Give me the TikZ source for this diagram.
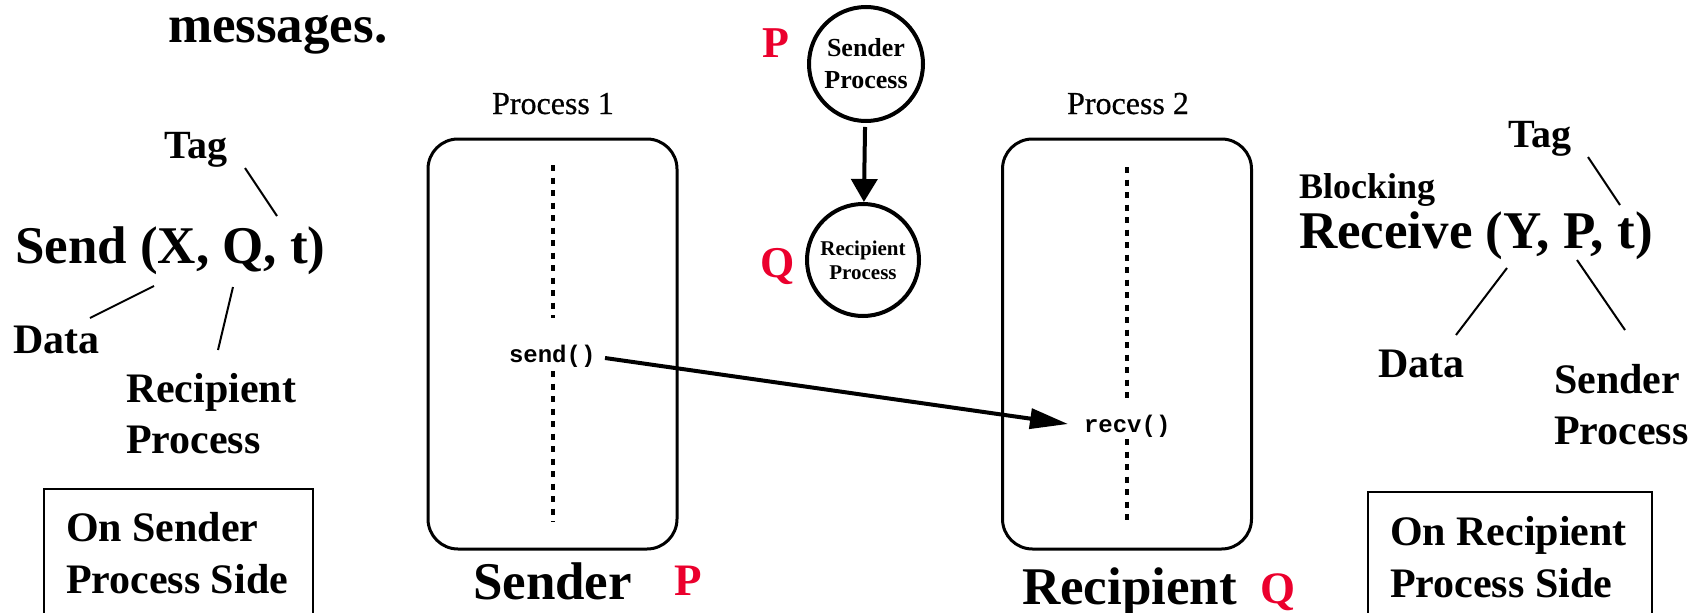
\documentclass[tikz,border=0pt]{standalone}
\usepackage{fontspec}
\setmainfont{Liberation Serif}
\setmonofont{Liberation Mono}
\newfontfamily\heavyserif[FakeBold=0.6]{Liberation Serif}
\usetikzlibrary{arrows.meta}
\definecolor{pqred}{RGB}{235,0,45}
\begin{document}
\begin{tikzpicture}[x=1pt,y=-1pt,
  txt/.style={inner sep=0pt, outer sep=0pt, anchor=base west},
  f53/.style={txt, font=\bfseries\fontsize{53}{60}\selectfont},
  f42/.style={txt, font=\bfseries\fontsize{42}{50}\selectfont},
  f40/.style={txt, font=\bfseries\fontsize{40}{48}\selectfont},
  f36/.style={txt, font=\bfseries\fontsize{36}{42}\selectfont},
  redlbl/.style={txt, text=pqred, font=\bfseries\fontsize{45}{50}\selectfont},
  proclbl/.style={inner sep=0pt, anchor=base, font=\heavyserif\fontsize{32}{36}\selectfont},
  code/.style={txt, font=\ttfamily\bfseries\fontsize{24}{28}\selectfont},
  procbox/.style={draw, line width=3pt, rounded corners=30pt, minimum width=249pt, minimum height=410pt, inner sep=0pt},
  lifeline/.style={line width=4pt, dash pattern=on 6pt off 6.5pt},
  lead/.style={line width=2pt},
  sidebox/.style={draw, line width=2.5pt},
  bubble/.style={circle, draw, line width=4pt, inner sep=0pt, align=center},
  msg/.style={line width=4pt, -{Triangle[length=38pt,width=20pt]}},
  flow/.style={line width=4pt, -{Triangle[length=23pt,width=26pt]}},
]
\useasboundingbox (0,0) rectangle (1700,613);

% ---------- left side ----------
\node[f53] (msg) at (168,42) {messages.};
\node[f40] (tagL) at (164,158) {Tag};
\node[f53] (sendL) at (15,263) {Send (X, Q, t)};
\node[f42] (dataL) at (13,353) {Data};
\node[f42] (recL1) at (126,402) {Recipient};
\node[f42] (recL2) at (126,453) {Process};
\coordinate (tl1) at (245,168); \coordinate (tl2) at (277,216);
\coordinate (dl1) at (154,286); \coordinate (dl2) at (90,318);
\coordinate (rl1) at (233,287); \coordinate (rl2) at (218,350);
\draw[lead] (tl1) -- (tl2);
\draw[lead] (dl1) -- (dl2);
\draw[lead] (rl1) -- (rl2);
\draw[sidebox] (44,489) rectangle (313,625);
\node[f42] (sideL1) at (66,541) {On Sender};
\node[f42] (sideL2) at (66,593) {Process Side};

% ---------- process 1 ----------
\node[procbox] (box1) at (552.5,344) {};
\node[proclbl] (p1) at (553,114) {Process 1};
\draw[lifeline] (553,165) -- (553,318);
\draw[lifeline] (553,371) -- (553,522);
\node[code] (sendC) at (509,362) {send()};

% ---------- process 2 ----------
\node[procbox] (box2) at (1127,344) {};
\node[proclbl] (p2) at (1128,114) {Process 2};
\draw[lifeline] (1127,167) -- (1127,400);
\draw[lifeline] (1127,439) -- (1127,522);
\node[code] (recvC) at (1084,432) {recv()};

\coordinate (m1) at (605,358);
\coordinate (m2) at (1068,424);
\draw[msg] (m1) -- (m2);

% ---------- bottom labels ----------
\node[f53] (sendB) at (473,599) {Sender};
\node[redlbl] (pB) at (674,595) {P};
\node[f53] (recB) at (1022,604) {Recipient};
\node[redlbl] (qB) at (1260,603) {Q};

% ---------- circles ----------
\node[bubble, minimum size=114pt, font=\bfseries\fontsize{26}{32}\selectfont] (c1) at (866,64) {Sender\\Process};
\node[bubble, minimum size=112pt, font=\bfseries\fontsize{21}{24}\selectfont] (c2) at (863,260) {Recipient\\Process};
\node[redlbl, font=\bfseries\fontsize{44}{50}\selectfont] (pT) at (762,57) {P};
\node[redlbl, font=\bfseries\fontsize{44}{50}\selectfont] (qT) at (760,277) {Q};
\draw[flow, shorten <=4pt] (c1) -- (c2);

% ---------- right side ----------
\node[f40] (tagR) at (1508,147) {Tag};
\node[f36] (blk) at (1299,198) {Blocking};
\node[f53] (recvR) at (1299,248) {Receive (Y, P, t)};
\node[f42] (dataR) at (1378,377) {Data};
\node[f42] (sndR1) at (1554,393) {Sender};
\node[f42] (sndR2) at (1554,444) {Process};
\coordinate (tr1) at (1588,157); \coordinate (tr2) at (1620,205);
\coordinate (dr1) at (1507,268); \coordinate (dr2) at (1456,335);
\coordinate (sr1) at (1577,260); \coordinate (sr2) at (1625,330);
\draw[lead] (tr1) -- (tr2);
\draw[lead] (dr1) -- (dr2);
\draw[lead] (sr1) -- (sr2);
\draw[sidebox] (1368,492) rectangle (1652,625);
\node[f42] (sideR1) at (1390,545) {On Recipient};
\node[f42] (sideR2) at (1390,597) {Process Side};
\end{tikzpicture}
\end{document}
